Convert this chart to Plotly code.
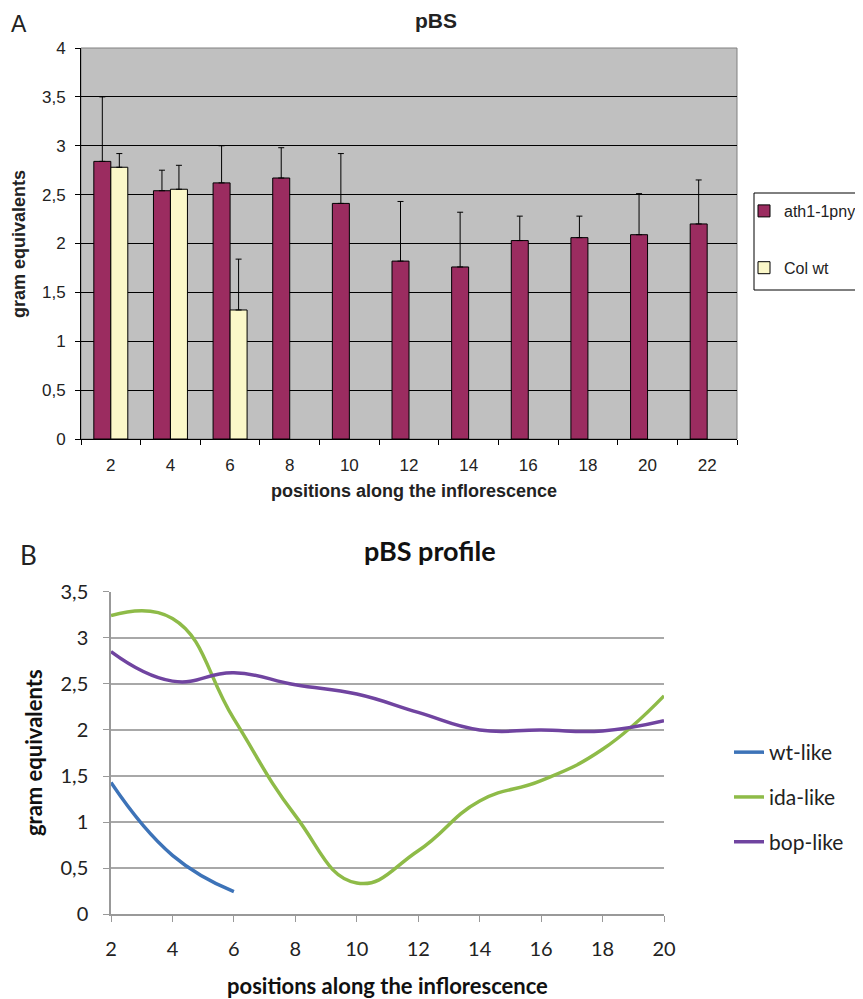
import plotly.graph_objects as go

# ---------------- data: panel A (bar chart) ----------------
positions_a = ["2", "4", "6", "8", "10", "12", "14", "16", "18", "20", "22"]
ath1_1pny = [2.84, 2.54, 2.62, 2.67, 2.41, 1.82, 1.76, 2.03, 2.06, 2.09, 2.20]
ath1_1pny_upper = [3.50, 2.75, 3.00, 2.98, 2.92, 2.43, 2.32, 2.28, 2.28, 2.51, 2.65]
col_wt = [2.78, 2.555, 1.32, None, None, None, None, None, None, None, None]
col_wt_upper = [2.92, 2.80, 1.84, None, None, None, None, None, None, None, None]
y_tickvals_a = [0, 0.5, 1, 1.5, 2, 2.5, 3, 3.5, 4]
y_ticktext_a = ["0", "0,5", "1", "1,5", "2", "2,5", "3", "3,5", "4"]

# ---------------- data: panel B (smoothed profiles) ----------------
positions_b = [2, 4, 6, 8, 10, 12, 14, 16, 18, 20]
wt_like = [1.43, 0.64, 0.245, None, None, None, None, None, None, None]
ida_like = [3.24, 3.21, 2.12, 1.07, 0.34, 0.69, 1.23, 1.45, 1.79, 2.37]
bop_like = [2.85, 2.53, 2.62, 2.49, 2.39, 2.19, 2.00, 2.00, 1.99, 2.10]
y_tickvals_b = [0, 0.5, 1, 1.5, 2, 2.5, 3, 3.5]
y_ticktext_b = ["0", "0,5", "1", "1,5", "2", "2,5", "3", "3,5"]

# page has an 8px body margin: figure is placed at (8, 8)
OFF = 8
W, H = 863 - OFF, 999 - OFF


def px(x):
    """page x pixel -> paper fraction"""
    return (x - OFF) / W


def py(y):
    """page y pixel -> paper fraction"""
    return 1 - (y - OFF) / H


def err_plus(vals, upper):
    return [None if v is None else u - v for v, u in zip(vals, upper)]


def err_minus(vals):
    return [None if v is None else 0 for v in vals]


FA = "Liberation Sans, Arial, sans-serif"
FB = "Lato, Open Sans, sans-serif"

fig = go.Figure()

fig.add_trace(go.Bar(
    x=positions_a, y=ath1_1pny, name="ath1-1pny",
    marker=dict(color="#9B2C60", line=dict(color="black", width=1)),
    error_y=dict(type="data", symmetric=False, array=err_plus(ath1_1pny, ath1_1pny_upper),
                 arrayminus=err_minus(ath1_1pny), color="black", thickness=1, width=3),
    xaxis="x", yaxis="y", legend="legend", legendgroup="a1",
))
fig.add_trace(go.Bar(
    x=positions_a, y=col_wt, name="Col wt",
    marker=dict(color="#FBF8C9", line=dict(color="black", width=1)),
    error_y=dict(type="data", symmetric=False, array=err_plus(col_wt, col_wt_upper),
                 arrayminus=err_minus(col_wt), color="black", thickness=1, width=3),
    xaxis="x", yaxis="y", legend="legend", legendgroup="a2",
))

SMOOTH = 1.3
fig.add_trace(go.Scatter(
    x=positions_b, y=wt_like, name="wt-like", mode="lines",
    line=dict(color="#3D73B8", width=3.5, shape="spline", smoothing=SMOOTH),
    xaxis="x2", yaxis="y2", legend="legend2", legendgroup="b1",
))
fig.add_trace(go.Scatter(
    x=positions_b, y=ida_like, name="ida-like", mode="lines",
    line=dict(color="#8EBB48", width=3.5, shape="spline", smoothing=SMOOTH),
    xaxis="x2", yaxis="y2", legend="legend2", legendgroup="b2",
))
fig.add_trace(go.Scatter(
    x=positions_b, y=bop_like, name="bop-like", mode="lines",
    line=dict(color="#7044A0", width=3.5, shape="spline", smoothing=SMOOTH),
    xaxis="x2", yaxis="y2", legend="legend2", legendgroup="b3",
))

ax_a_dom_x = [px(81), px(737)]
ax_a_dom_y = [py(439), py(48)]
ax_b_dom_x = [px(111), px(664)]
ax_b_dom_y = [py(914.3), py(591.7)]

fig.update_layout(
    width=W, height=H,
    margin=dict(l=0, r=0, t=0, b=0, autoexpand=False),
    paper_bgcolor="white", plot_bgcolor="rgba(0,0,0,0)",
    barmode="group", bargap=0.43, bargroupgap=0,
    showlegend=True,
    xaxis=dict(domain=ax_a_dom_x, anchor="y", type="category",
               tickson="boundaries", ticks="outside", ticklen=5, tickcolor="black",
               showline=True, linecolor="black", linewidth=1, showgrid=False,
               tickfont=dict(family=FA, size=17, color="#222"), ticklabelstandoff=11,
               fixedrange=True),
    yaxis=dict(domain=ax_a_dom_y, anchor="x", range=[0, 4],
               tickvals=y_tickvals_a, ticktext=y_ticktext_a,
               ticks="outside", ticklen=5, tickcolor="black",
               showline=True, linecolor="black", linewidth=1,
               showgrid=True, gridcolor="black", gridwidth=1, zeroline=False,
               tickfont=dict(family=FA, size=17, color="#222"), ticklabelstandoff=6),
    xaxis2=dict(domain=ax_b_dom_x, anchor="y2", range=[2, 20], tickmode="linear", tick0=2, dtick=2,
                ticks="outside", ticklen=6, tickcolor="#999",
                showline=True, linecolor="#999", linewidth=1.5, showgrid=False, zeroline=False,
                tickfont=dict(family=FB, size=20, color="#222"), ticklabelstandoff=10),
    yaxis2=dict(domain=ax_b_dom_y, anchor="x2", range=[0, 3.5],
                tickvals=y_tickvals_b, ticktext=y_ticktext_b,
                ticks="outside", ticklen=6, tickcolor="#999",
                showline=True, linecolor="#999", linewidth=1.5,
                showgrid=True, gridcolor="#A8A8A8", gridwidth=1.5, zeroline=False,
                tickfont=dict(family=FB, size=20, color="#222"), ticklabelstandoff=11),
    legend=dict(x=px(744), y=py(194), xanchor="left", yanchor="top",
                bgcolor="rgba(0,0,0,0)", borderwidth=0,
                font=dict(family=FA, size=16, color="#222"),
                tracegroupgap=33, itemwidth=30, traceorder="grouped"),
    legend2=dict(x=px(729), y=py(732), xanchor="left", yanchor="top",
                 bgcolor="rgba(0,0,0,0)", borderwidth=0,
                 font=dict(family=FB, size=21, color="#222"),
                 tracegroupgap=14.5, itemwidth=30, traceorder="grouped"),
    shapes=[
        # grey plot area of panel A
        dict(type="rect", xref="paper", yref="paper", layer="below",
             x0=ax_a_dom_x[0], x1=ax_a_dom_x[1], y0=ax_a_dom_y[0], y1=ax_a_dom_y[1],
             fillcolor="#C0C0C0", line=dict(color="#808080", width=1)),
        # legend box of panel A (runs off the right edge)
        dict(type="rect", xref="paper", yref="paper", layer="above",
             x0=px(754), x1=px(875), y0=py(290), y1=py(193),
             fillcolor="rgba(0,0,0,0)", line=dict(color="black", width=1)),
    ],
    annotations=[
        dict(text="A", x=px(9), y=py(9), xref="paper", yref="paper", xanchor="left", yanchor="top",
             showarrow=False, font=dict(family=FA, size=23, color="#222")),
        dict(text="<b>pBS</b>", x=px(436), y=py(20), xref="paper", yref="paper", xanchor="center",
             yanchor="middle", showarrow=False, font=dict(family=FA, size=21, color="#222")),
        dict(text="<b>positions along the inflorescence</b>", x=px(414), y=py(491), xref="paper",
             yref="paper", xanchor="center", yanchor="middle", showarrow=False,
             font=dict(family=FA, size=18, color="#222")),
        dict(text="<b>gram equivalents</b>", x=px(19), y=py(244), xref="paper", yref="paper",
             xanchor="center", yanchor="middle", textangle=-90, showarrow=False,
             font=dict(family=FA, size=18, color="#222")),
        dict(text="B", x=px(18), y=py(555), xref="paper", yref="paper", xanchor="left", yanchor="middle",
             showarrow=False, font=dict(family=FB, size=26, color="#222")),
        dict(text="<b>pBS profile</b>", x=px(430), y=py(550), xref="paper", yref="paper",
             xanchor="center", yanchor="middle", showarrow=False,
             font=dict(family=FB, size=27, color="#111")),
        dict(text="<b>positions along the inflorescence</b>", x=px(387), y=py(985), xref="paper",
             yref="paper", xanchor="center", yanchor="middle", showarrow=False,
             font=dict(family=FB, size=22, color="#111")),
        dict(text="<b>gram equivalents</b>", x=px(33), y=py(753), xref="paper", yref="paper",
             xanchor="center", yanchor="middle", textangle=-90, showarrow=False,
             font=dict(family=FB, size=22, color="#111")),
    ],
)

fig.write_html("out.html")
